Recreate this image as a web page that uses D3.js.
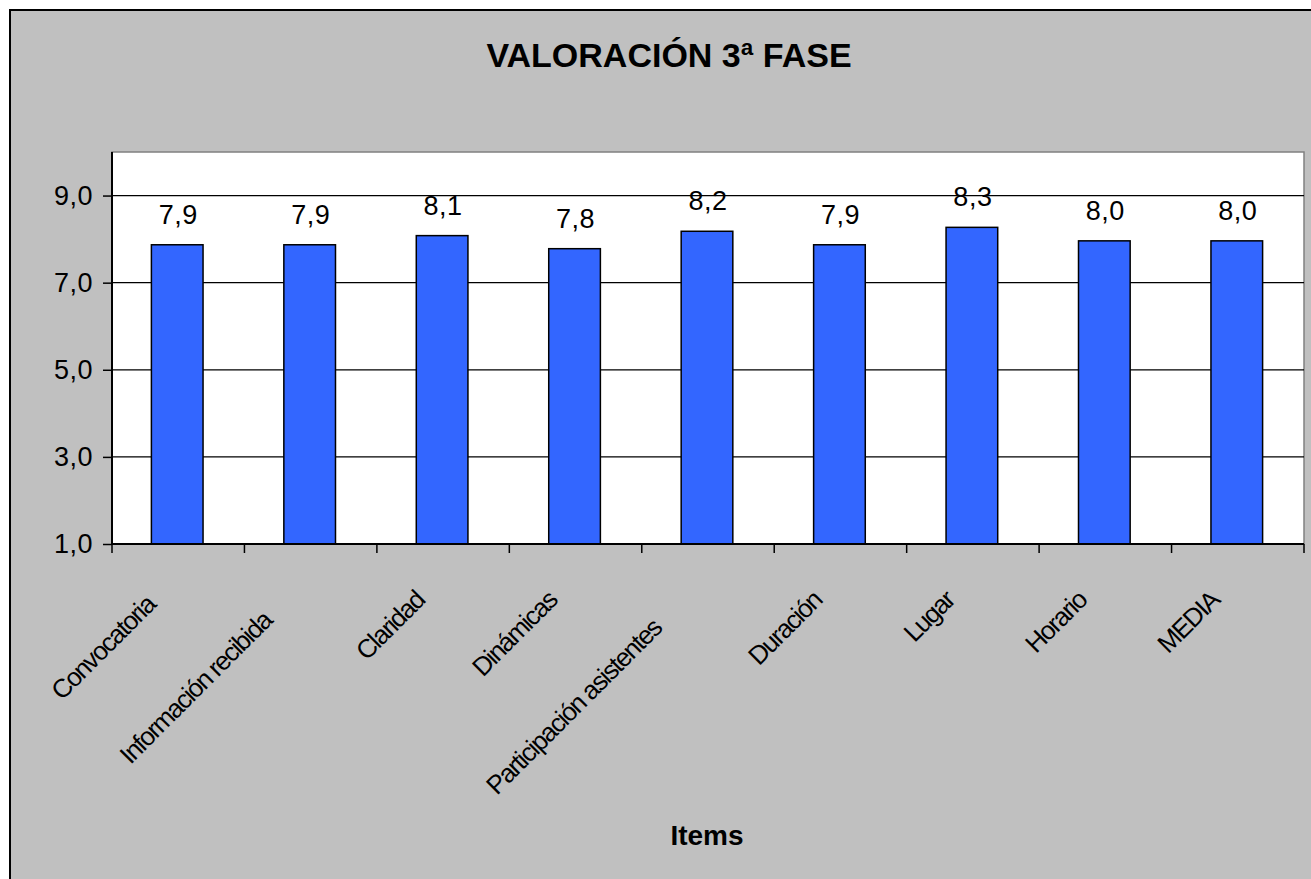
<!DOCTYPE html>
<html>
<head>
<meta charset="utf-8">
<script src="https://cdn.jsdelivr.net/npm/d3@7"></script>
<style>
  body { margin: 0; background: #fff; }
  svg { display: block; font-family: Arial, "Liberation Sans", sans-serif; }
</style>
</head>
<body>
<div id="chart-container"></div>
<script>
// data
const categories = ["Convocatoria", "Información recibida", "Claridad", "Dinámicas",
  "Participación asistentes", "Duración", "Lugar", "Horario", "MEDIA"];
const values = [7.87, 7.87, 8.08, 7.78, 8.18, 7.87, 8.27, 7.96, 7.96];
const yTicks = [1, 3, 5, 7, 9];
const yDomain = [1, 10];

drawChart();

function drawChart() {
  // sizing
  const width = 1311,
    height = 879
  const plot = { left: 112, top: 152, right: 1304, bottom: 544 }

  const fmt = v => d3.format(".1f")(v).replace(".", ",");

  const svg = d3.select("#chart-container")
    .append("svg")
    .attr("width", width)
    .attr("height", height);

  // chart area background + border
  svg.append("rect")
    .attr("x", 10).attr("y", 10)
    .attr("width", width + 20).attr("height", height + 20)
    .attr("fill", "#c0c0c0")
    .attr("stroke", "#000")
    .attr("stroke-width", 2);

  // plot area
  svg.append("rect")
    .attr("x", plot.left).attr("y", plot.top)
    .attr("width", plot.right - plot.left).attr("height", plot.bottom - plot.top)
    .attr("fill", "#fff")
    .attr("stroke", "#808080")
    .attr("stroke-width", 1.5);

  // scales
  const x = d3.scaleBand()
    .domain(categories)
    .range([plot.left, plot.right])
    .padding(0);
  const y = d3.scaleLinear()
    .domain(yDomain)
    .range([plot.bottom, plot.top]);

  const barWidth = x.bandwidth() * 0.39;

  // gridlines
  svg.append("g")
    .selectAll("line")
    .data(yTicks.slice(1))
    .join("line")
    .attr("x1", plot.left).attr("x2", plot.right)
    .attr("y1", d => y(d)).attr("y2", d => y(d))
    .attr("stroke", "#000")
    .attr("stroke-width", 1.3);

  // bars
  svg.append("g")
    .selectAll("rect")
    .data(values)
    .join("rect")
    .attr("x", (d, i) => x(categories[i]) + x.bandwidth() / 2 - barWidth / 2 - 1)
    .attr("y", d => y(d))
    .attr("width", barWidth)
    .attr("height", d => y(yDomain[0]) - y(d))
    .attr("fill", "#3366ff")
    .attr("stroke", "#000")
    .attr("stroke-width", 1.5);

  // value labels
  svg.append("g")
    .selectAll("text")
    .data(values)
    .join("text")
    .attr("x", (d, i) => x(categories[i]) + x.bandwidth() / 2)
    .attr("y", d => y(d) - 21)
    .attr("text-anchor", "middle")
    .attr("font-size", "27px")
    .attr("letter-spacing", "0.5px")
    .attr("fill", "#000")
    .text(d => fmt(d));

  // y axis
  const yAxis = svg.append("g")
    .attr("transform", `translate(${plot.left},0)`)
    .call(d3.axisLeft(y).tickValues(yTicks).tickSize(9).tickPadding(10).tickFormat(fmt));
  yAxis.select(".domain").attr("stroke", "#000").attr("stroke-width", 2)
    .attr("d", `M0,${plot.bottom}V${plot.top}`);
  yAxis.selectAll(".tick line").attr("stroke-width", 1.5);
  yAxis.selectAll(".tick text")
    .attr("font-size", "27px")
    .attr("letter-spacing", "0.5px")
    .attr("font-family", null)
    .attr("fill", "#000");

  // x axis (ticks between categories)
  const xAxis = svg.append("g");
  xAxis.append("line")
    .attr("x1", plot.left).attr("x2", plot.right)
    .attr("y1", plot.bottom).attr("y2", plot.bottom)
    .attr("stroke", "#000").attr("stroke-width", 2);
  xAxis.selectAll(".xtick")
    .data(categories.concat([null]))
    .join("line")
    .attr("class", "xtick")
    .attr("x1", (d, i) => plot.left + i * x.step())
    .attr("x2", (d, i) => plot.left + i * x.step())
    .attr("y1", plot.bottom).attr("y2", plot.bottom + 9)
    .attr("stroke", "#000").attr("stroke-width", 1.5);

  // rotated category labels
  const labels = xAxis.selectAll(".xlabel")
    .data(categories)
    .join("text")
    .attr("class", "xlabel")
    .attr("text-anchor", "end")
    .attr("font-size", "26px")
    .attr("letter-spacing", "-1.6px")
    .attr("fill", "#000")
    .text(d => d);
  labels.each(function (d) {
    const len = this.getComputedTextLength();
    const shift = Math.max(0, len - 115) * 0.33;
    const cx = x(d) + x.bandwidth() / 2 - 17 - shift * 0.707;
    const cy = plot.bottom + 58 + shift * 0.707;
    d3.select(this).attr("transform", `translate(${cx},${cy}) rotate(-45)`);
  });

  // title
  svg.append("text")
    .attr("x", 669).attr("y", 67)
    .attr("text-anchor", "middle")
    .attr("font-size", "34px")
    .attr("font-weight", "bold")
    .text("VALORACIÓN 3ª FASE");

  // axis title
  svg.append("text")
    .attr("x", 707).attr("y", 845)
    .attr("text-anchor", "middle")
    .attr("font-size", "28px")
    .attr("font-weight", "bold")
    .text("Items");
}
</script>
</body>
</html>
